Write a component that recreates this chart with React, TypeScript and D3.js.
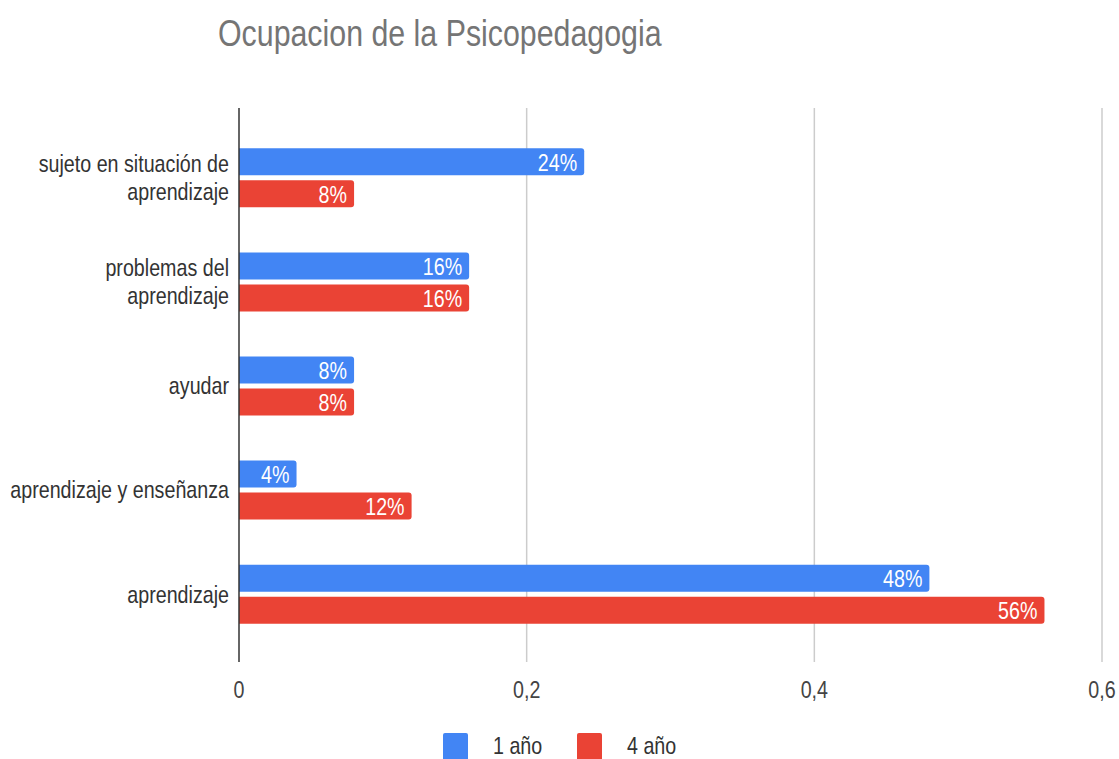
import React from 'react';
import * as d3 from 'd3';

const categories = [
    ['sujeto en situación de', 'aprendizaje'],
    ['problemas del', 'aprendizaje'],
    ['ayudar'],
    ['aprendizaje y enseñanza'],
    ['aprendizaje'],
];
const series = ['1 año', '4 año'];
const year1 = [0.24, 0.16, 0.08, 0.04, 0.48];
const year4 = [0.08, 0.16, 0.08, 0.12, 0.56];
const ticks = [0, 0.2, 0.4, 0.6];
const colors = ['#4285f4', '#ea4335'];

const W = 1119;
const H = 759;
const font = '"Liberation Sans", Arial, sans-serif';
const SQUEEZE = 0.82; // the reference text is a narrow face

// text drawn narrow: translate to the anchor, then squeeze horizontally
function NText({x, y, size, fill, anchor = 'start', children}: any) {
    return (
        <text transform={`translate(${x},${y}) scale(${SQUEEZE},1)`} dy="0.35em"
              textAnchor={anchor} fontSize={size} fill={fill}>
            {children}
        </text>
    );
}

export default function App() {
    const margin = {left: 239, right: 17, top: 108, bottom: 97};

    const x = d3.scaleLinear()
        .domain([0, 0.6])
        .range([margin.left, W - margin.right]);

    const y0 = d3.scaleBand<number>()
        .domain(d3.range(categories.length))
        .range([110, 662])
        .paddingInner(0.433)
        .paddingOuter(0.368);

    const y1 = d3.scaleBand<number>()
        .domain([0, 1])
        .range([0, y0.bandwidth()])
        .paddingInner(0.156);

    const values = [year1, year4];
    const fmt = (v: number) => `${Math.round(v * 100)}%`;
    const barPath = (x0: number, x1: number, yTop: number, h: number) => {
        const r = 3;
        return `M${x0},${yTop}H${x1 - r}Q${x1},${yTop} ${x1},${yTop + r}V${yTop + h - r}Q${x1},${yTop + h} ${x1 - r},${yTop + h}H${x0}Z`;
    };

    return (
        <svg width={W} height={H} style={{position: 'absolute', left: 0, top: 0}} fontFamily={font}>
            <rect width={W} height={H} fill="#fff"/>
            <NText x={218} y={33} size={37} fill="#757575">Ocupacion de la Psicopedagogia</NText>

            {ticks.slice(1).map(t => (
                <line key={t} x1={x(t)} x2={x(t)} y1={margin.top} y2={662} stroke="#cccccc" strokeWidth={1.5}/>
            ))}

            {categories.map((lines, i) => {
                const cy = (y0(i) as number) + y0.bandwidth() / 2;
                const lh = 28;
                const start = cy - (lines.length - 1) * lh / 2;
                return (
                    <g key={i}>
                        {lines.map((l, j) => (
                            <NText key={j} x={229} y={start + j * lh} size={24} fill="#333" anchor="end">{l}</NText>
                        ))}
                    </g>
                );
            })}

            {values.map((vals, s) => vals.map((v, i) => {
                const yTop = (y0(i) as number) + (y1(s) as number);
                const h = y1.bandwidth();
                return (
                    <g key={`${s}-${i}`}>
                        <path d={barPath(x(0), x(v), yTop, h)} fill={colors[s]}/>
                        <NText x={x(v) - 7} y={yTop + h / 2 + 0.5} size={24} fill="#fff" anchor="end">{fmt(v)}</NText>
                    </g>
                );
            }))}

            <line x1={x(0)} x2={x(0)} y1={margin.top} y2={662} stroke="#333" strokeWidth={1.5}/>

            {ticks.map(t => (
                <NText key={t} x={x(t)} y={690} size={24} fill="#444" anchor="middle">
                    {String(t).replace('.', ',')}
                </NText>
            ))}

            {series.map((s, k) => {
                const lx = k === 0 ? 443 : 577;
                return (
                    <g key={s}>
                        <rect x={lx} y={733} width={25} height={30} rx={2} fill={colors[k]}/>
                        <NText x={lx + 50} y={746} size={24} fill="#333">{s}</NText>
                    </g>
                );
            })}
        </svg>
    );
}
